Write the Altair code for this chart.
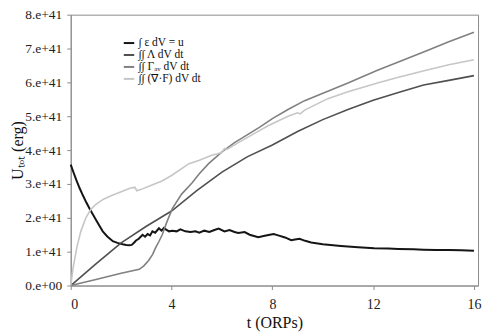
import altair as alt
import pandas as pd

# series 1: ∫ ε dV = u  (units of 1e41 erg)
t_u = [0, 0.1, 0.22, 0.35, 0.49, 0.62, 0.75, 0.88, 1.01, 1.15, 1.27, 1.45, 1.67, 1.85, 2.06, 2.2, 2.32, 2.42,
       2.52, 2.59, 2.7, 2.85, 2.95, 3.05, 3.15, 3.24, 3.35, 3.5, 3.6, 3.7, 3.77, 3.9, 4.03, 4.2, 4.35, 4.55,
       4.75, 4.95, 5.1, 5.3, 5.5, 5.7, 5.87, 6.1, 6.3, 6.5, 6.65, 6.9, 7.1, 7.44, 7.7, 7.9, 8.05, 8.23, 8.5,
       8.75, 8.9, 9.08, 9.3, 9.54, 10.0, 10.72, 11.4, 12.04, 12.6, 13.0, 13.6, 14.0, 14.5, 15.0, 15.5, 16.0]
v_u = [3.57, 3.36, 3.12, 2.88, 2.65, 2.45, 2.27, 2.1, 1.93, 1.75, 1.6, 1.45, 1.31, 1.26, 1.22, 1.2, 1.19, 1.2,
       1.27, 1.33, 1.38, 1.5, 1.44, 1.52, 1.48, 1.6, 1.56, 1.69, 1.62, 1.7, 1.66, 1.6, 1.62, 1.6, 1.66, 1.6,
       1.58, 1.6, 1.56, 1.62, 1.58, 1.64, 1.68, 1.6, 1.64, 1.58, 1.55, 1.58, 1.5, 1.43, 1.47, 1.5, 1.52, 1.48, 1.42,
       1.34, 1.36, 1.38, 1.32, 1.27, 1.22, 1.17, 1.13, 1.1, 1.09, 1.08, 1.07, 1.06, 1.05, 1.05, 1.04, 1.03]

# series 2: ∫∫ Λ dV dt
t_l = [0, 1, 2, 3, 4, 5, 6, 7, 8, 9, 10, 11, 12, 13, 14, 15, 16]
v_l = [0, 0.64, 1.26, 1.75, 2.2, 2.8, 3.35, 3.8, 4.15, 4.55, 4.9, 5.2, 5.47, 5.7, 5.92, 6.06, 6.2]

# series 3: ∫∫ Γ dV dt
t_g = [0, 1, 2, 2.72, 2.9, 3.09, 3.25, 3.37, 3.5, 3.63, 3.8, 4.03, 4.4, 4.81, 5.1, 5.47, 6.0, 6.5, 7.0, 7.5,
       8.0, 8.62, 9.28, 10.2, 11.0, 12.17, 13.0, 14.1, 15.0, 16.0]
v_g = [0, 0.18, 0.36, 0.48, 0.58, 0.74, 0.92, 1.12, 1.3, 1.5, 1.85, 2.27, 2.7, 3.03, 3.3, 3.6, 3.95, 4.22,
       4.45, 4.68, 4.93, 5.2, 5.46, 5.74, 5.98, 6.36, 6.6, 6.93, 7.2, 7.48]

# series 4: ∫∫ (∇·F) dV dt
t_f = [0, 0.1, 0.25, 0.4, 0.6, 0.8, 1.0, 1.3, 1.6, 2.0, 2.4, 2.55, 2.62, 2.8, 3.2, 3.6, 4.0, 4.69, 5.08, 5.6,
       6.0, 6.1, 6.2, 6.6, 7.31, 7.83, 8.62, 9.0, 9.1, 9.28, 10.2, 11.0, 12.17, 13.0, 14.1, 15.0, 16.0]
v_f = [0, 0.55, 1.15, 1.6, 2.0, 2.25, 2.4, 2.55, 2.65, 2.77, 2.89, 2.9, 2.8, 2.84, 2.96, 3.08, 3.25, 3.6, 3.69,
       3.85, 3.93, 4.05, 4.02, 4.2, 4.5, 4.72, 5.0, 5.1, 5.07, 5.18, 5.52, 5.72, 5.98, 6.15, 6.36, 6.52, 6.67]

names = ["∫ ε dV = u", "∫∫ Λ dV dt", "∫∫ Γₐᵥ dV dt", "∫∫ (∇·F) dV dt"]
colors = ["#151515", "#505050", "#808080", "#c6c6c6"]
widths = [2.0, 1.6, 1.6, 1.6]

rows = []
for name, w, ts, vs in zip(names, widths, [t_u, t_l, t_g, t_f], [v_u, v_l, v_g, v_f]):
    for i, (t, v) in enumerate(zip(ts, vs)):
        rows.append({"t": t, "v": v, "series": name, "order": i, "w": w})
df = pd.DataFrame(rows)

serif = "Liberation Serif, Times New Roman, serif"

chart = alt.Chart(df).mark_line().encode(
    x=alt.X("t:Q", title="t (ORPs)",
            scale=alt.Scale(domain=[0, 16.16], nice=False, zero=False),
            axis=alt.Axis(values=[0, 4, 8, 12, 16], grid=False, tickSize=4, labelPadding=8,
                          titlePadding=3, labelFontSize=14, titleFontSize=16)),
    y=alt.Y("v:Q", title="Uₜₒₜ (erg)",
            scale=alt.Scale(domain=[0, 8], nice=False),
            axis=alt.Axis(values=[0, 1, 2, 3, 4, 5, 6, 7, 8], grid=False, tickSize=4, labelPadding=5,
                          labelExpr="datum.value == 0 ? '0.e+00' : datum.value + '.e+41'",
                          titleX=-45, titleY=136, titleAngle=270, titleBaseline="bottom",
                          titleAlign="center", labelFontSize=13.5, titleFontSize=16)),
    color=alt.Color("series:N", scale=alt.Scale(domain=names, range=colors),
                    legend=alt.Legend(title=None, orient="none", legendX=52, legendY=22,
                                      symbolType="stroke", symbolSize=110, symbolStrokeWidth=2,
                                      labelFont=serif, labelFontSize=11.5, labelColor="#111",
                                      rowPadding=-1, labelOffset=3, symbolOffset=0, padding=0)),
    strokeWidth=alt.StrokeWidth("w:Q", scale=None, legend=None),
    order="order:Q",
    detail="series:N",
).properties(
    width=409, height=272,
    autosize=alt.AutoSizeParams(type="none"),
    padding={"left": 63, "top": 6, "right": 5, "bottom": 50},
).configure_axis(
    domainColor="#8c8c8c", tickColor="#8c8c8c", labelColor="#222", titleColor="#111",
    labelFont=serif, titleFont=serif, titleFontWeight="normal",
).configure_view(
    stroke="#8c8c8c", strokeWidth=1,
)

chart.save("out.html", embed_options={"renderer": "svg", "actions": False})
